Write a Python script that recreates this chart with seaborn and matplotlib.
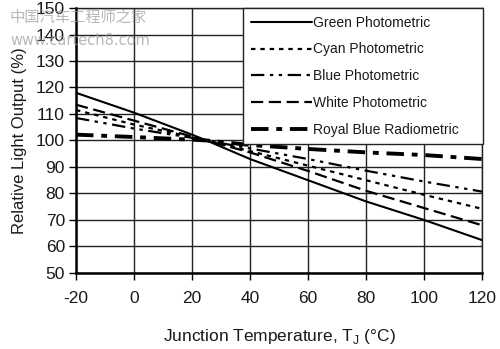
import matplotlib
matplotlib.use("Agg")
import matplotlib.pyplot as plt
import numpy as np
import pandas as pd
import seaborn as sns

# Junction temperature (°C) and relative light output (%) per LED colour
temps = [-20, 0, 20, 25, 40, 60, 80, 100, 120]
green = [118.0, 110.5, 102.2, 100.0, 93.0, 85.0, 77.0, 70.0, 62.4]
cyan = [111.5, 106.0, 101.3, 100.0, 96.0, 90.5, 85.0, 79.5, 74.2]
blue = [108.5, 104.5, 101.0, 100.0, 97.0, 93.0, 88.6, 84.5, 80.7]
white = [113.5, 107.5, 101.5, 100.0, 95.5, 88.5, 81.0, 74.5, 68.0]
royal_blue = [102.2, 101.3, 100.3, 100.0, 98.3, 96.8, 95.5, 94.5, 93.0]

series_names = ["Green Photometric", "Cyan Photometric", "Blue Photometric",
                "White Photometric", "Royal Blue Radiometric"]
series_values = [green, cyan, blue, white, royal_blue]

x_ticks = [-20, 0, 20, 40, 60, 80, 100, 120]
y_ticks = [50, 60, 70, 80, 90, 100, 110, 120, 130, 140, 150]

df = pd.DataFrame({
    "temp": np.tile(temps, len(series_names)),
    "output": np.concatenate(series_values),
    "series": np.repeat(series_names, len(temps)),
})

sns.set_theme(style="white")
plt.rcParams["font.family"] = ["Liberation Sans", "DejaVu Sans"]

fig = plt.figure(figsize=(5.0, 3.49), dpi=100)
ax = fig.add_axes([0.152, 0.218, 0.812, 0.759])

styles = {
    "Green Photometric": dict(dashes=(None, None), lw=1.5),
    "Cyan Photometric": dict(dashes=(2.0, 2.2), lw=1.6),
    "Blue Photometric": dict(dashes=(6, 2.5, 1.5, 2.5, 1.5, 2.5), lw=1.6),
    "White Photometric": dict(dashes=(5.5, 2.5), lw=1.6),
    "Royal Blue Radiometric": dict(dashes=(4.5, 2, 1.5, 2), lw=2.8),
}

for name in series_names:
    sub = df[df["series"] == name]
    st = styles[name]
    sns.lineplot(data=sub, x="temp", y="output", ax=ax, color="black",
                 linewidth=st["lw"], label=name, zorder=3)
    line = ax.lines[-1]
    if st["dashes"][0] is not None:
        line.set_dashes(st["dashes"])

ax.set_xlim(-20, 120)
ax.set_ylim(50, 150)
ax.set_xticks(x_ticks)
ax.set_yticks(y_ticks)
ax.set_xticklabels(["-20" if t < 0 else str(t) for t in x_ticks])
ax.grid(True, color="#222222", linewidth=1.0, zorder=0)
ax.set_axisbelow(True)
for side in ["top", "right"]:
    ax.spines[side].set_visible(True)
    ax.spines[side].set_color("#222222")
    ax.spines[side].set_linewidth(1.0)
for side in ["left", "bottom"]:
    ax.spines[side].set_color("black")
    ax.spines[side].set_linewidth(1.8)

ax.tick_params(axis="both", which="major", direction="out", length=5,
               width=1.0, color="black", labelsize=12.5, labelcolor="#1a1a1a",
               left=True, bottom=True, pad=3)
ax.tick_params(axis="x", pad=8)

ax.set_xlabel("Junction Temperature, T$_\\mathregular{J}$ (°C)", fontsize=12.5,
              color="#1a1a1a", labelpad=15)
ax.set_ylabel("Relative Light Output (%)", fontsize=12, color="#1a1a1a",
              labelpad=6)

leg = ax.legend(loc="upper left", bbox_to_anchor=(0.411, 1.0, 0.591, 0.0),
                mode="expand", fontsize=10, handlelength=4.4,
                handletextpad=0.1, labelspacing=0.92, borderaxespad=0.0,
                borderpad=0.55, fancybox=False, framealpha=1.0)
leg.get_frame().set_edgecolor("#222222")
leg.get_frame().set_linewidth(1.0)
for t in leg.get_texts():
    t.set_color("#1a1a1a")

# Site watermark in the upper-left corner
fig.text(0.02, 0.95, "中国汽车工程师之家", fontsize=11, color="#9a9a9a",
         alpha=0.7, family=["Noto Sans CJK SC", "DejaVu Sans"], va="center")
fig.text(0.02, 0.885, "www.cartech8.com", fontsize=10.5, color="#9a9a9a",
         alpha=0.7, family=["DejaVu Sans"], va="center")

fig.savefig("out.png", dpi=100)
